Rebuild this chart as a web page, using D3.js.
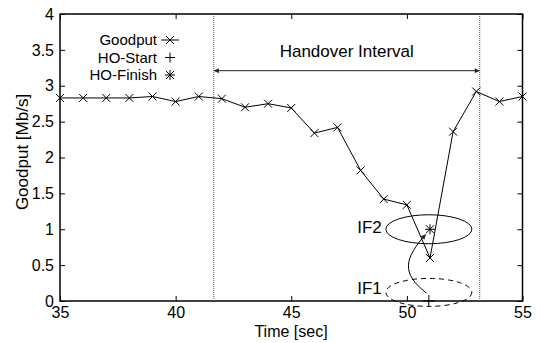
<!DOCTYPE html>
<html>
<head>
<meta charset="utf-8">
<script src="https://cdn.jsdelivr.net/npm/d3@7/dist/d3.min.js"></script>
<style>
  html, body { margin: 0; padding: 0; background: #fff; }
  svg { display: block; font-family: "Liberation Sans", Arial, Helvetica, sans-serif; }
</style>
</head>
<body>
<svg id="chart" width="543" height="343"></svg>
<script>
// Goodput samples over time (one per second)
const times = [35,36,37,38,39,40,41,42,43,44,45,46,47,48,49,50,51,52,53,54,55];
const goodput = [2.83,2.83,2.83,2.83,2.85,2.78,2.85,2.82,2.70,2.75,2.69,2.34,2.42,1.82,1.42,1.34,0.60,2.36,2.92,2.78,2.85];

// Handover events
const hoStart = [[50.95, 0]];
const hoFinish = [[51, 1.0]];
const handoverBounds = [41.65, 53.15];

const xTicks = [35,40,45,50,55];
const yTicks = [0,0.5,1,1.5,2,2.5,3,3.5,4];

(function draw() {
const svg = d3.select("#chart");
const pL = 60, pR = 522.5, pT = 14, pB = 301;

const x = d3.scaleLinear().domain([35,55]).range([pL,pR]);
const y = d3.scaleLinear().domain([0,4]).range([pB,pT]);

const fs = 17, fsTick = 16, fsLegend = 15;

// axes with inward ticks on all four sides
const tickLen = 5;
const gx = svg.append("g").attr("transform", `translate(0,${pB})`)
  .call(d3.axisBottom(x).tickValues(xTicks).tickSize(-tickLen).tickPadding(6).tickFormat(d3.format("d")));
const gxt = svg.append("g").attr("transform", `translate(0,${pT})`)
  .call(d3.axisTop(x).tickValues(xTicks).tickSize(-tickLen).tickFormat(""));
const gy = svg.append("g").attr("transform", `translate(${pL},0)`)
  .call(d3.axisLeft(y).tickValues(yTicks).tickSize(-tickLen).tickPadding(6).tickFormat(d => String(d)));
const gyr = svg.append("g").attr("transform", `translate(${pR},0)`)
  .call(d3.axisRight(y).tickValues(yTicks).tickSize(-tickLen).tickFormat(""));

[gx,gxt,gy,gyr].forEach(g => {
  g.select(".domain").remove();
  g.selectAll(".tick line").attr("stroke","#000").attr("stroke-width",1);
  g.selectAll(".tick text").attr("font-size", fsTick).attr("fill","#000")
    .attr("font-family", '"Liberation Sans", Arial, sans-serif');
});

// frame
svg.append("rect").attr("x", pL).attr("y", pT)
  .attr("width", pR-pL).attr("height", pB-pT)
  .attr("fill","none").attr("stroke","#000").attr("stroke-width",1.5);

// axis titles
svg.append("text").attr("x", 291).attr("y", 337).attr("text-anchor","middle")
  .attr("font-size", 16).text("Time [sec]");
svg.append("text").attr("transform", "translate(28,152) rotate(-90)")
  .attr("text-anchor","middle").attr("font-size", fs).text("Goodput [Mb/s]");

// handover interval boundaries
svg.selectAll("line.bound").data(handoverBounds).enter().append("line")
  .attr("class","bound")
  .attr("x1", d => x(d)).attr("x2", d => x(d))
  .attr("y1", pT).attr("y2", pB)
  .attr("stroke","#555").attr("stroke-width",1).attr("stroke-dasharray","1,1");

// arrow markers
const defs = svg.append("defs");
defs.append("marker").attr("id","ah").attr("viewBox","0 0 10 10")
  .attr("refX",10).attr("refY",5).attr("markerWidth",7).attr("markerHeight",5)
  .attr("orient","auto-start-reverse").attr("markerUnits","userSpaceOnUse")
  .append("path").attr("d","M0,0 L10,5 L0,10 z").attr("fill","#222");

// handover interval double arrow
const arrowY = y(3.21);
svg.append("line")
  .attr("x1", x(handoverBounds[0])).attr("x2", x(handoverBounds[1]))
  .attr("y1", arrowY).attr("y2", arrowY)
  .attr("stroke","#222").attr("stroke-width",1)
  .attr("marker-start","url(#ah)").attr("marker-end","url(#ah)");
svg.append("text").attr("x", (x(handoverBounds[0])+x(handoverBounds[1]))/2)
  .attr("y", arrowY-14).attr("text-anchor","middle").attr("font-size", fs)
  .text("Handover Interval");

// goodput line
const line = d3.line().x((d,i) => x(times[i])).y(d => y(d));
svg.append("path").datum(goodput).attr("d", line)
  .attr("fill","none").attr("stroke","#000").attr("stroke-width",1);

// marker shapes
function crossPath(cx, cy, s) {
  return `M${cx-s},${cy-s}L${cx+s},${cy+s}M${cx-s},${cy+s}L${cx+s},${cy-s}`;
}
function plusPath(cx, cy, s) {
  return `M${cx-s},${cy}L${cx+s},${cy}M${cx},${cy-s}L${cx},${cy+s}`;
}
function starPath(cx, cy, s) {
  return crossPath(cx, cy, s*0.8) + plusPath(cx, cy, s);
}

svg.append("g").selectAll("path").data(goodput).enter().append("path")
  .attr("d", (d,i) => crossPath(x(times[i]), y(d), 4))
  .attr("stroke","#000").attr("stroke-width",1).attr("fill","none");

svg.append("g").selectAll("path").data(hoStart).enter().append("path")
  .attr("d", d => plusPath(x(d[0]), y(d[1]), 6))
  .attr("stroke","#000").attr("stroke-width",1).attr("fill","none");

svg.append("g").selectAll("path").data(hoFinish).enter().append("path")
  .attr("d", d => starPath(x(d[0]), y(d[1]), 5))
  .attr("stroke","#000").attr("stroke-width",1).attr("fill","none");

// IF2 / IF1 regions
svg.append("ellipse").attr("cx", x(50.95)).attr("cy", y(1.0))
  .attr("rx", 43).attr("ry", 14.5)
  .attr("fill","none").attr("stroke","#000").attr("stroke-width",1);
svg.append("ellipse").attr("cx", x(50.95)).attr("cy", y(0.12))
  .attr("rx", 43).attr("ry", 14)
  .attr("fill","none").attr("stroke","#000").attr("stroke-width",1)
  .attr("stroke-dasharray","5,4");
svg.append("text").attr("x", x(47.85)).attr("y", y(0.95)).attr("font-size", fs).text("IF2");
svg.append("text").attr("x", x(47.85)).attr("y", y(0.1)).attr("font-size", fs).text("IF1");

// transition arrow from IF1 to IF2
const s0 = [x(50.85), y(0.11)], s1 = [x(50.82), y(0.93)];
svg.append("path")
  .attr("d", `M${s0[0]},${s0[1]} C${s0[0]-26},${s0[1]-20} ${s0[0]-22},${s1[1]+24} ${s1[0]},${s1[1]}`)
  .attr("fill","none").attr("stroke","#000").attr("stroke-width",1)
  .attr("marker-end","url(#ah)");

// legend
const legend = [
  {label:"Goodput", shape: crossPath, line:true, y:40},
  {label:"HO-Start", shape: plusPath, line:false, y:57.5},
  {label:"HO-Finish", shape: starPath, line:false, y:75}
];
const lg = svg.append("g");
legend.forEach(d => {
  lg.append("text").attr("x", 157).attr("y", d.y).attr("dy","0.35em")
    .attr("text-anchor","end").attr("font-size", fsLegend).text(d.label);
  if (d.line) lg.append("line").attr("x1",161).attr("x2",179).attr("y1",d.y).attr("y2",d.y)
    .attr("stroke","#000").attr("stroke-width",1);
  lg.append("path").attr("d", d.shape(170, d.y, d.shape===crossPath ? 4 : 5))
    .attr("stroke","#000").attr("stroke-width",1).attr("fill","none");
});
})();
</script>
</body>
</html>
